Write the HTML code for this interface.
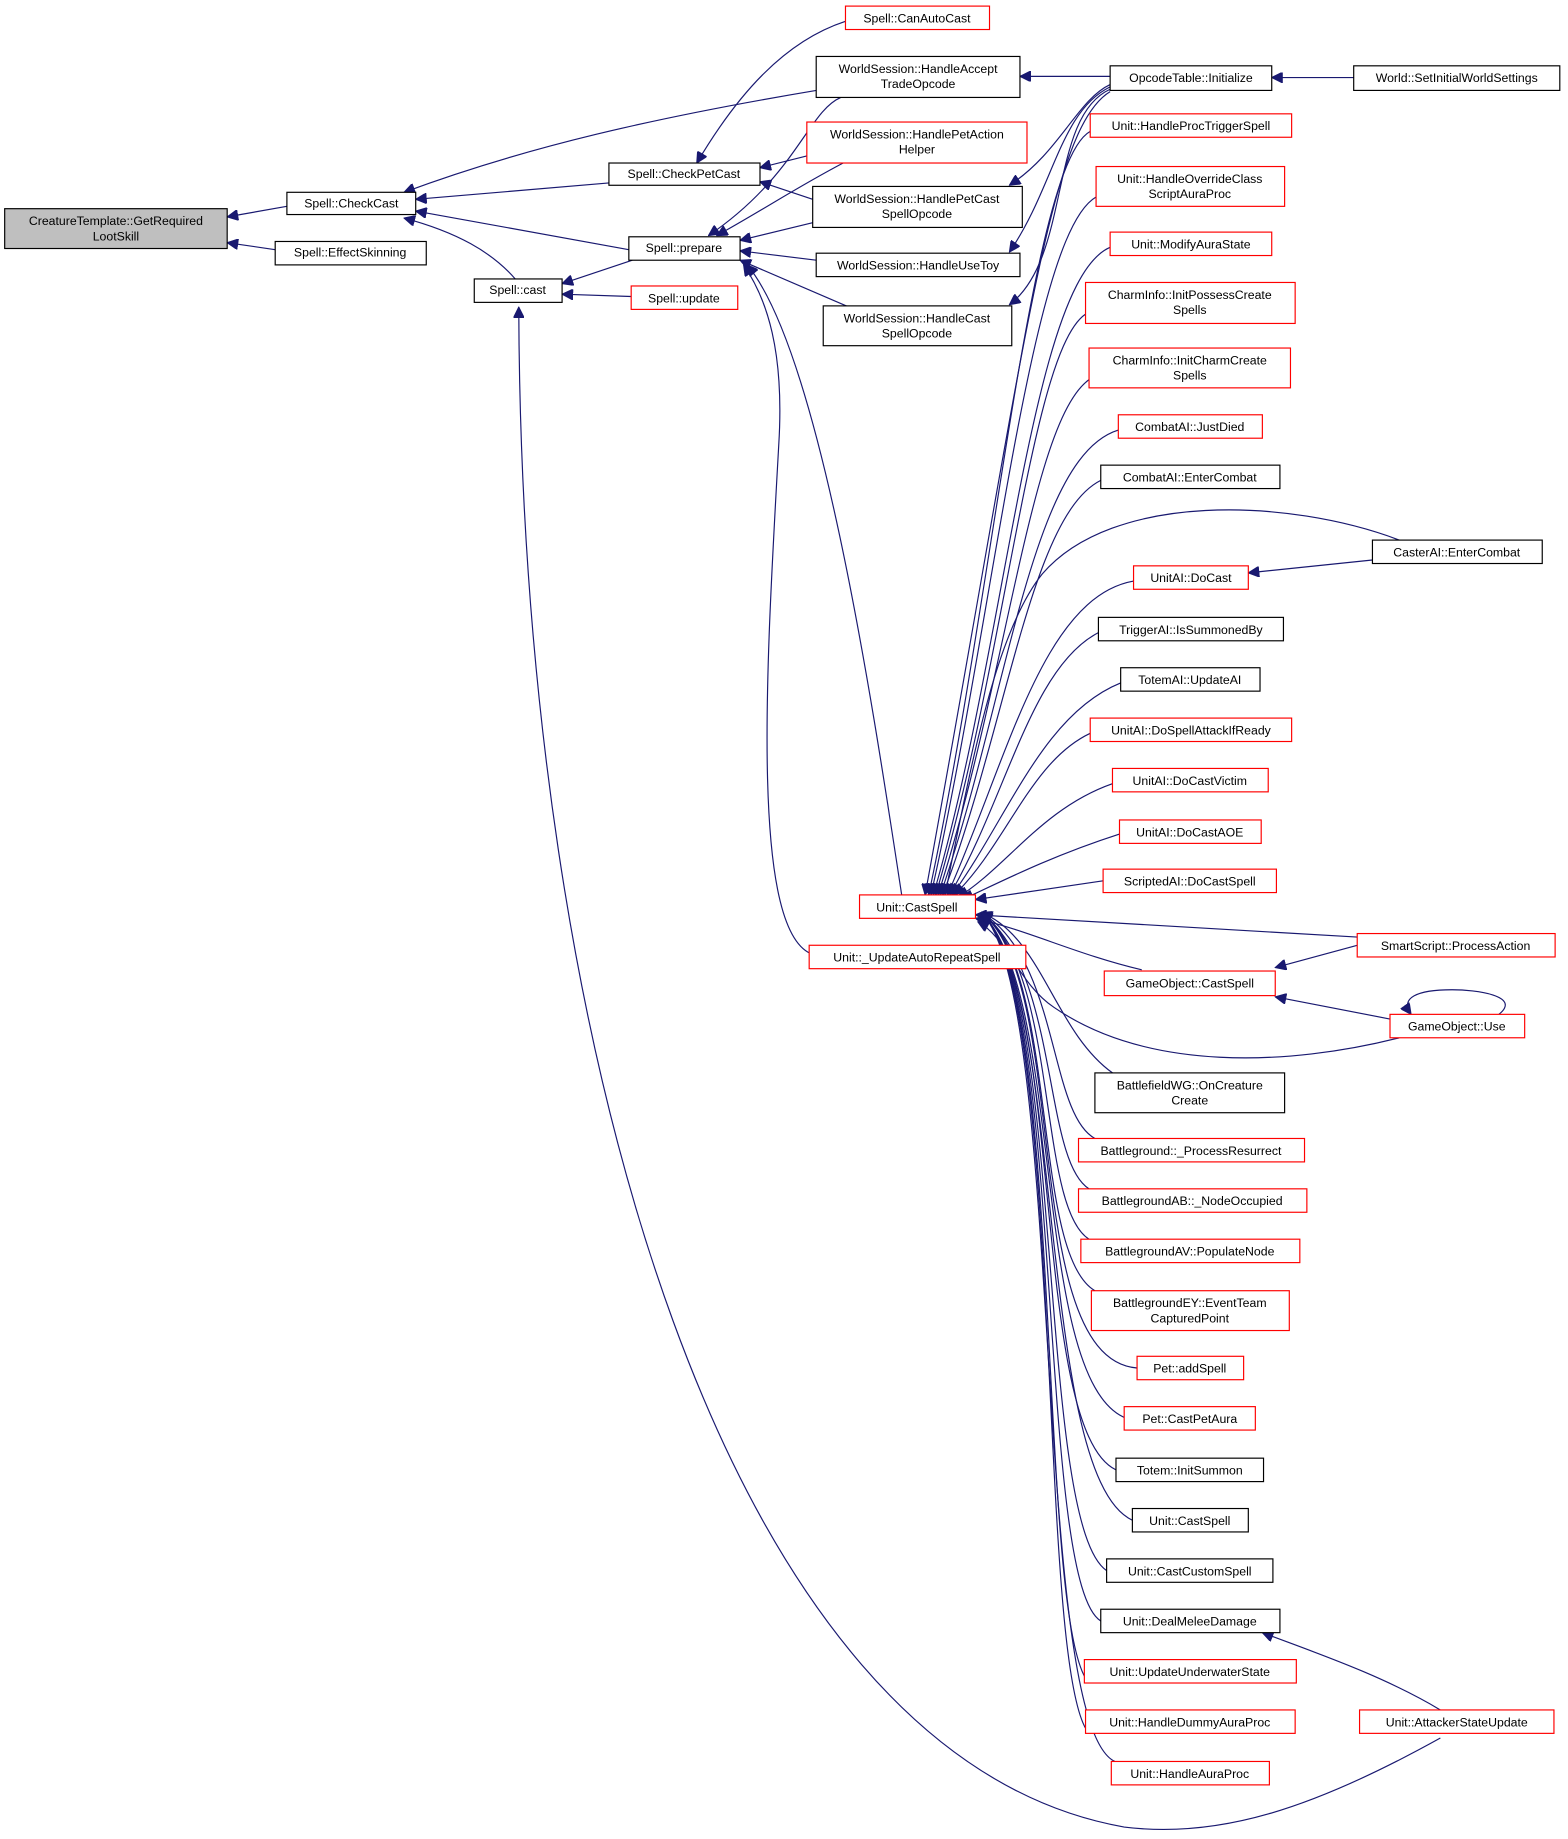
<!DOCTYPE html>
<html><head><meta charset="utf-8"><style>
html,body{margin:0;padding:0;background:#fff;}
svg{display:block}
text{font-family:"Liberation Sans","DejaVu Sans",sans-serif;font-size:10.5px;fill:#000;text-anchor:middle}
.b{fill:#fff;stroke:#000;stroke-width:1}
.r{fill:#fff;stroke:#ff0000;stroke-width:1}
.g{fill:#bfbfbf;stroke:#000;stroke-width:1}
path,line{stroke:#191970;stroke-width:1;fill:none}
</style></head><body>
<svg width="1568" height="1839" viewBox="0 0 1339 1570" xmlns="http://www.w3.org/2000/svg">
<defs><marker id="a" viewBox="0 0 10 10" refX="10" refY="5" markerWidth="10" markerHeight="9" markerUnits="userSpaceOnUse" orient="auto"><path d="M0,0 L10,5 L0,10 z" style="fill:#191970;stroke:#191970"/></marker></defs>
<g marker-end="url(#a)">
<path d="M245,176 L194,185"/>
<path d="M235,213 L194,207"/>
<path d="M520,156 L355,170"/>
<path d="M697,77 C560,100 450,125 345,164"/>
<path d="M537,213 L355,180"/>
<path d="M440,238 C420,215 390,198 345,186"/>
<path d="M540,222 L480,242"/>
<path d="M539,253 L480,251"/>
<path d="M1230,1484 C1120,1545 1040,1570 960,1560 C620,1500 445,900 443,262"/>
<path d="M722,18 C670,35 630,80 595,139"/>
<path d="M689,133 L649,143"/>
<path d="M694,170 L649,155"/>
<path d="M718,83 C690,95 680,150 605,201"/>
<path d="M720,139 C680,160 650,180 612,201"/>
<path d="M694,190 L632,205"/>
<path d="M697,222 L632,214"/>
<path d="M725,262 L632,222"/>
<path d="M770,764 C745,600 700,300 638,226"/>
<path d="M692,814 C640,790 655,560 665,380 C670,300 655,255 635,226"/>
<path d="M948,65 L871,65"/>
<path d="M1156,66 L1086,66"/>
<path d="M948,72 C920,85 905,130 862,158"/>
<path d="M948,74 C905,95 900,160 862,215"/>
<path d="M948,76 C895,100 915,220 862,260"/>
<path d="M948,78 C895,110 875,300 790,764"/>
<path d="M931,112 C880,140 850,500 793,764"/>
<path d="M936,168 C880,200 850,520 795,764"/>
<path d="M948,211 C880,240 860,550 797,764"/>
<path d="M927,268 C880,300 860,560 799,764"/>
<path d="M930,324 C880,360 860,580 801,764"/>
<path d="M955,367 C880,390 860,600 803,764"/>
<path d="M940,410 C880,440 860,620 805,764"/>
<path d="M1195,461 C1100,425 950,420 890,490 C850,540 830,650 807,764"/>
<path d="M968,496 C890,510 860,650 809,764"/>
<path d="M938,540 C880,570 860,680 811,764"/>
<path d="M957,583 C890,610 860,700 813,764"/>
<path d="M931,626 C880,650 860,720 815,764"/>
<path d="M950,669 C890,690 860,740 818,766"/>
<path d="M956,712 C900,730 860,750 822,768"/>
<path d="M942,752 L833,768"/>
<path d="M1159,800 L833,781"/>
<path d="M975,828 C920,815 880,795 833,784"/>
<path d="M1195,886 C1100,910 980,915 900,860 C870,840 860,800 835,787"/>
<path d="M950,916 C900,880 890,800 838,779"/>
<path d="M935,972 C895,950 905,820 838,779"/>
<path d="M930,1015 C890,990 905,830 838,779"/>
<path d="M930,1058 C885,1030 905,830 838,779"/>
<path d="M935,1102 C880,1070 905,830 838,779"/>
<path d="M971,1168 C870,1160 915,840 838,779"/>
<path d="M962,1211 C880,1180 910,850 838,779"/>
<path d="M953,1255 C880,1220 910,850 838,779"/>
<path d="M967,1298 C885,1260 910,850 838,779"/>
<path d="M945,1341 C885,1300 910,850 838,779"/>
<path d="M940,1384 C885,1350 910,850 838,779"/>
<path d="M930,1437 C885,1390 910,850 838,779"/>
<path d="M930,1480 C885,1430 910,850 838,779"/>
<path d="M952,1504 C880,1470 910,850 838,779"/>
<path d="M1172,478 L1066,489"/>
<path d="M1159,807 L1089,826"/>
<path d="M1187,870 L1089,851"/>
<path d="M1230,1460 C1180,1430 1120,1410 1078,1394"/>
<path d="M1280,866 C1300,850 1260,845 1240,845 C1210,845 1195,852 1205,866"/>
</g>
<rect class="g" x="4" y="178" width="190" height="34"/><text x="99" y="192">CreatureTemplate::GetRequired</text><text x="99" y="205">LootSkill</text>
<rect class="b" x="245" y="164" width="110" height="19"/><text x="300" y="177">Spell::CheckCast</text>
<rect class="b" x="235" y="206" width="129" height="20"/><text x="299" y="219">Spell::EffectSkinning</text>
<rect class="b" x="405" y="238" width="75" height="20"/><text x="442" y="251">Spell::cast</text>
<rect class="b" x="520" y="139" width="129" height="19"/><text x="584" y="152">Spell::CheckPetCast</text>
<rect class="b" x="537" y="202" width="95" height="20"/><text x="584" y="215">Spell::prepare</text>
<rect class="r" x="539" y="244" width="91" height="20"/><text x="584" y="258">Spell::update</text>
<rect class="r" x="722" y="5" width="123" height="20"/><text x="783" y="19">Spell::CanAutoCast</text>
<rect class="b" x="697" y="48" width="174" height="35"/><text x="784" y="62">WorldSession::HandleAccept</text><text x="784" y="75">TradeOpcode</text>
<rect class="r" x="689" y="104" width="188" height="35"/><text x="783" y="118">WorldSession::HandlePetAction</text><text x="783" y="131">Helper</text>
<rect class="b" x="694" y="159" width="179" height="35"/><text x="783" y="173">WorldSession::HandlePetCast</text><text x="783" y="186">SpellOpcode</text>
<rect class="b" x="697" y="216" width="174" height="20"/><text x="784" y="230">WorldSession::HandleUseToy</text>
<rect class="b" x="703" y="261" width="161" height="34"/><text x="783" y="275">WorldSession::HandleCast</text><text x="783" y="288">SpellOpcode</text>
<rect class="r" x="734" y="764" width="99" height="20"/><text x="783" y="778">Unit::CastSpell</text>
<rect class="r" x="691" y="807" width="185" height="20"/><text x="783" y="821">Unit::_UpdateAutoRepeatSpell</text>
<rect class="b" x="948" y="56" width="138" height="21"/><text x="1017" y="70">OpcodeTable::Initialize</text>
<rect class="b" x="1156" y="56" width="176" height="21"/><text x="1244" y="70">World::SetInitialWorldSettings</text>
<rect class="r" x="931" y="97" width="172" height="20"/><text x="1017" y="111">Unit::HandleProcTriggerSpell</text>
<rect class="r" x="936" y="142" width="161" height="34"/><text x="1016" y="156">Unit::HandleOverrideClass</text><text x="1016" y="169">ScriptAuraProc</text>
<rect class="r" x="948" y="198" width="138" height="20"/><text x="1017" y="212">Unit::ModifyAuraState</text>
<rect class="r" x="927" y="241" width="179" height="35"/><text x="1016" y="255">CharmInfo::InitPossessCreate</text><text x="1016" y="268">Spells</text>
<rect class="r" x="930" y="297" width="172" height="34"/><text x="1016" y="311">CharmInfo::InitCharmCreate</text><text x="1016" y="324">Spells</text>
<rect class="r" x="955" y="354" width="123" height="20"/><text x="1016" y="368">CombatAI::JustDied</text>
<rect class="b" x="940" y="397" width="153" height="20"/><text x="1016" y="411">CombatAI::EnterCombat</text>
<rect class="b" x="1172" y="461" width="145" height="20"/><text x="1244" y="475">CasterAI::EnterCombat</text>
<rect class="r" x="968" y="483" width="98" height="20"/><text x="1017" y="497">UnitAI::DoCast</text>
<rect class="b" x="938" y="527" width="158" height="20"/><text x="1017" y="541">TriggerAI::IsSummonedBy</text>
<rect class="b" x="957" y="570" width="119" height="20"/><text x="1016" y="584">TotemAI::UpdateAI</text>
<rect class="r" x="931" y="613" width="172" height="20"/><text x="1017" y="627">UnitAI::DoSpellAttackIfReady</text>
<rect class="r" x="950" y="656" width="133" height="20"/><text x="1016" y="670">UnitAI::DoCastVictim</text>
<rect class="r" x="956" y="700" width="121" height="20"/><text x="1016" y="714">UnitAI::DoCastAOE</text>
<rect class="r" x="942" y="742" width="148" height="20"/><text x="1016" y="756">ScriptedAI::DoCastSpell</text>
<rect class="r" x="1159" y="797" width="169" height="20"/><text x="1243" y="811">SmartScript::ProcessAction</text>
<rect class="r" x="943" y="829" width="146" height="21"/><text x="1016" y="843">GameObject::CastSpell</text>
<rect class="r" x="1187" y="866" width="115" height="20"/><text x="1244" y="880">GameObject::Use</text>
<rect class="b" x="935" y="916" width="162" height="34"/><text x="1016" y="930">BattlefieldWG::OnCreature</text><text x="1016" y="943">Create</text>
<rect class="r" x="921" y="972" width="193" height="20"/><text x="1017" y="986">Battleground::_ProcessResurrect</text>
<rect class="r" x="921" y="1015" width="195" height="20"/><text x="1018" y="1029">BattlegroundAB::_NodeOccupied</text>
<rect class="r" x="923" y="1058" width="187" height="20"/><text x="1016" y="1072">BattlegroundAV::PopulateNode</text>
<rect class="r" x="932" y="1102" width="169" height="34"/><text x="1016" y="1116">BattlegroundEY::EventTeam</text><text x="1016" y="1129">CapturedPoint</text>
<rect class="r" x="971" y="1158" width="91" height="20"/><text x="1016" y="1172">Pet::addSpell</text>
<rect class="r" x="960" y="1201" width="112" height="20"/><text x="1016" y="1215">Pet::CastPetAura</text>
<rect class="b" x="953" y="1245" width="126" height="20"/><text x="1016" y="1259">Totem::InitSummon</text>
<rect class="b" x="967" y="1288" width="99" height="20"/><text x="1016" y="1302">Unit::CastSpell</text>
<rect class="b" x="945" y="1331" width="142" height="20"/><text x="1016" y="1345">Unit::CastCustomSpell</text>
<rect class="b" x="940" y="1374" width="153" height="20"/><text x="1016" y="1388">Unit::DealMeleeDamage</text>
<rect class="r" x="926" y="1417" width="181" height="20"/><text x="1016" y="1431">Unit::UpdateUnderwaterState</text>
<rect class="r" x="927" y="1460" width="179" height="20"/><text x="1016" y="1474">Unit::HandleDummyAuraProc</text>
<rect class="r" x="949" y="1504" width="135" height="20"/><text x="1016" y="1518">Unit::HandleAuraProc</text>
<rect class="r" x="1161" y="1460" width="166" height="20"/><text x="1244" y="1474">Unit::AttackerStateUpdate</text>
</svg>
</body></html>
